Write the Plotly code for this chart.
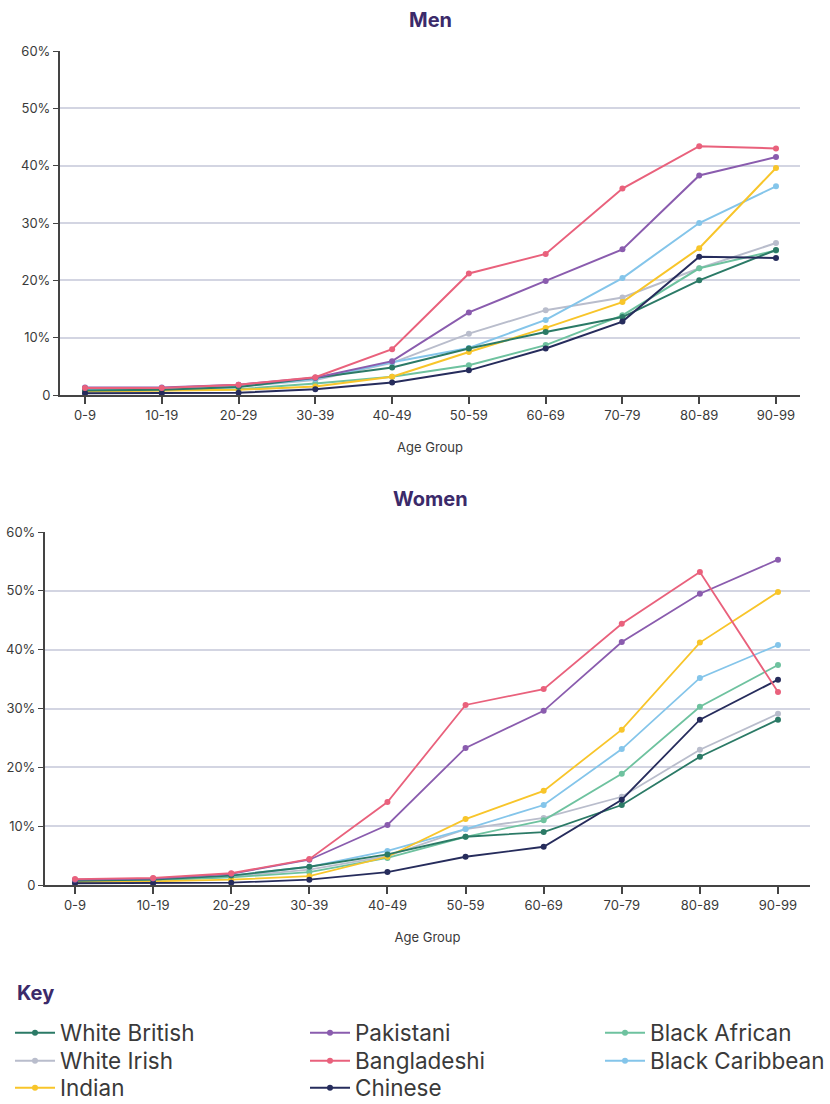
import plotly.graph_objects as go

age_groups = ["0-9", "10-19", "20-29", "30-39", "40-49", "50-59", "60-69", "70-79", "80-89", "90-99"]

groups = ["White British", "White Irish", "Indian", "Pakistani", "Bangladeshi", "Chinese", "Black African", "Black Caribbean"]
colors = {
    "White British": "#2b7a66",
    "White Irish": "#b9bdcc",
    "Indian": "#f8c52a",
    "Pakistani": "#8a5cae",
    "Bangladeshi": "#e9617c",
    "Chinese": "#262c5c",
    "Black African": "#6ec29f",
    "Black Caribbean": "#84c5ea",
}

# Men (% by age group)
men_white_british = [0.8, 0.9, 1.4, 3.0, 4.8, 8.1, 11.0, 13.6, 20.0, 25.3]
men_white_irish = [1.0, 1.0, 1.5, 2.6, 5.6, 10.7, 14.8, 17.0, 22.1, 26.5]
men_indian = [0.6, 0.7, 0.9, 1.5, 3.2, 7.5, 11.7, 16.2, 25.6, 39.6]
men_pakistani = [1.3, 1.3, 1.8, 3.0, 5.9, 14.4, 19.9, 25.4, 38.3, 41.5]
men_bangladeshi = [1.2, 1.2, 1.8, 3.1, 8.0, 21.2, 24.6, 36.0, 43.4, 43.0]
men_chinese = [0.3, 0.3, 0.4, 1.0, 2.2, 4.3, 8.1, 12.8, 24.1, 23.9]
men_black_african = [0.7, 0.8, 1.0, 2.0, 3.2, 5.2, 8.7, 13.9, 22.1, 25.2]
men_black_caribbean = [1.0, 1.0, 1.5, 2.8, 5.7, 8.2, 13.1, 20.4, 30.0, 36.4]

# Women (% by age group)
women_white_british = [0.7, 0.9, 1.6, 3.1, 5.2, 8.2, 9.0, 13.6, 21.8, 28.1]
women_white_irish = [0.7, 0.9, 1.4, 2.6, 4.9, 9.5, 11.4, 15.0, 23.0, 29.1]
women_indian = [0.5, 0.6, 0.9, 1.5, 4.8, 11.2, 16.0, 26.4, 41.2, 49.8]
women_pakistani = [0.9, 1.1, 1.9, 4.3, 10.2, 23.3, 29.6, 41.3, 49.5, 55.3]
women_bangladeshi = [1.0, 1.2, 2.0, 4.4, 14.1, 30.6, 33.3, 44.4, 53.2, 32.8]
women_chinese = [0.3, 0.3, 0.4, 0.9, 2.2, 4.8, 6.5, 14.5, 28.1, 34.9]
women_black_african = [0.6, 0.8, 1.3, 2.2, 4.6, 8.2, 11.0, 18.9, 30.3, 37.4]
women_black_caribbean = [0.8, 1.0, 1.6, 3.1, 5.8, 9.5, 13.6, 23.1, 35.2, 40.8]

men = {
    "White British": men_white_british, "White Irish": men_white_irish, "Indian": men_indian,
    "Pakistani": men_pakistani, "Bangladeshi": men_bangladeshi, "Chinese": men_chinese,
    "Black African": men_black_african, "Black Caribbean": men_black_caribbean,
}
women = {
    "White British": women_white_british, "White Irish": women_white_irish, "Indian": women_indian,
    "Pakistani": women_pakistani, "Bangladeshi": women_bangladeshi, "Chinese": women_chinese,
    "Black African": women_black_african, "Black Caribbean": women_black_caribbean,
}

y_ticks = [0, 10, 20, 30, 40, 50, 60]
y_ticktext = ["0", "10%", "20%", "30%", "40%", "50%", "60%"]

W, H = 830, 1104
FONT = "Inter, Roboto, sans-serif"
TITLE_COLOR = "#3b2a6a"
TEXT_COLOR = "#3a3a3a"

def px_x(p):
    return p / W

def px_y(p):
    return 1 - p / H

# key layout: 3 columns x 3 rows (column-major order of groups)
key_col_x = [10, 305, 600]
key_row_y = [1033, 1061, 1088]
legend_ids = {}
legend_layout = {}
for i, name in enumerate(groups):
    lid = "legend" if i == 0 else f"legend{i + 1}"
    legend_ids[name] = lid
    legend_layout[lid] = dict(
        orientation="v", x=px_x(key_col_x[i // 3]), y=px_y(key_row_y[i % 3]),
        xanchor="left", yanchor="middle",
        font=dict(size=22.5, color=TEXT_COLOR, family=FONT),
        itemwidth=40, bgcolor="rgba(0,0,0,0)",
    )

fig = go.Figure()
x_idx = list(range(len(age_groups)))

draw_order = ["White Irish", "Black African", "Black Caribbean", "Indian", "White British", "Chinese", "Pakistani", "Bangladeshi"]
for name in draw_order:
    fig.add_trace(go.Scatter(
        x=x_idx, y=men[name], name=name, mode="lines+markers",
        line=dict(color=colors[name], width=2), marker=dict(size=6, color=colors[name]),
        legend=legend_ids[name], xaxis="x", yaxis="y",
    ))
for name in draw_order:
    fig.add_trace(go.Scatter(
        x=x_idx, y=women[name], name=name, mode="lines+markers", showlegend=False,
        line=dict(color=colors[name], width=1.8), marker=dict(size=6, color=colors[name]),
        xaxis="x2", yaxis="y2",
    ))

def xaxis_cfg(domain, rng):
    return dict(
        domain=domain, range=rng, tickmode="array", tickvals=x_idx, ticktext=age_groups,
        showline=True, linecolor="#444444", linewidth=2, ticks="outside", ticklen=7,
        tickcolor="#444444", tickwidth=1.5, showgrid=False, zeroline=False,
        tickfont=dict(size=13, color=TEXT_COLOR, family=FONT),
        title=dict(text="Age Group", font=dict(size=13, color=TEXT_COLOR, family=FONT), standoff=21),
        fixedrange=True, automargin=False,
    )

def yaxis_cfg(domain, anchor):
    return dict(
        domain=domain, range=[0, 60], tickmode="array", tickvals=y_ticks, ticktext=y_ticktext,
        showline=True, linecolor="#444444", linewidth=2, ticks="outside", ticklen=5,
        tickcolor="#444444", showgrid=True, gridcolor="#d3d5e2", gridwidth=1.5,
        zeroline=False, tickfont=dict(size=13, color=TEXT_COLOR, family=FONT),
        anchor=anchor, fixedrange=True, automargin=False,
    )

# Men plot: x 60..800 px, y 51..395 px ; Women plot: x 45..810, y 532..885
men_sp = (776 - 85) / 9
women_sp = (778 - 75) / 9
fig.update_layout(
    width=W, height=H,
    margin=dict(l=0, r=0, t=0, b=0, autoexpand=False),
    paper_bgcolor="white", plot_bgcolor="white",
    font=dict(family=FONT, color=TEXT_COLOR),
    xaxis=xaxis_cfg([px_x(60), px_x(800)], [-(85 - 60) / men_sp, 9 + (800 - 776) / men_sp]),
    yaxis=yaxis_cfg([px_y(395), px_y(51)], "x"),
    xaxis2=dict(**xaxis_cfg([px_x(45), px_x(810)], [-(75 - 45) / women_sp, 9 + (810 - 778) / women_sp]), anchor="y2"),
    yaxis2=yaxis_cfg([px_y(885), px_y(532)], "x2"),
    annotations=[
        dict(text="<b>Men</b>", x=px_x(430), y=px_y(20), xref="paper", yref="paper",
             yanchor="middle", showarrow=False, font=dict(size=20, color=TITLE_COLOR, family=FONT)),
        dict(text="<b>Women</b>", x=px_x(430), y=px_y(499), xref="paper", yref="paper",
             yanchor="middle", showarrow=False, font=dict(size=20, color=TITLE_COLOR, family=FONT)),
        dict(text="<b>Key</b>", x=px_x(15), y=px_y(993), xref="paper", yref="paper",
             xanchor="left", yanchor="middle", showarrow=False,
             font=dict(size=20, color=TITLE_COLOR, family=FONT)),
    ],
)
fig.update_layout(**legend_layout)

fig.write_html("out.html", config={"displayModeBar": False},
               post_script="document.body.style.margin='0';")
